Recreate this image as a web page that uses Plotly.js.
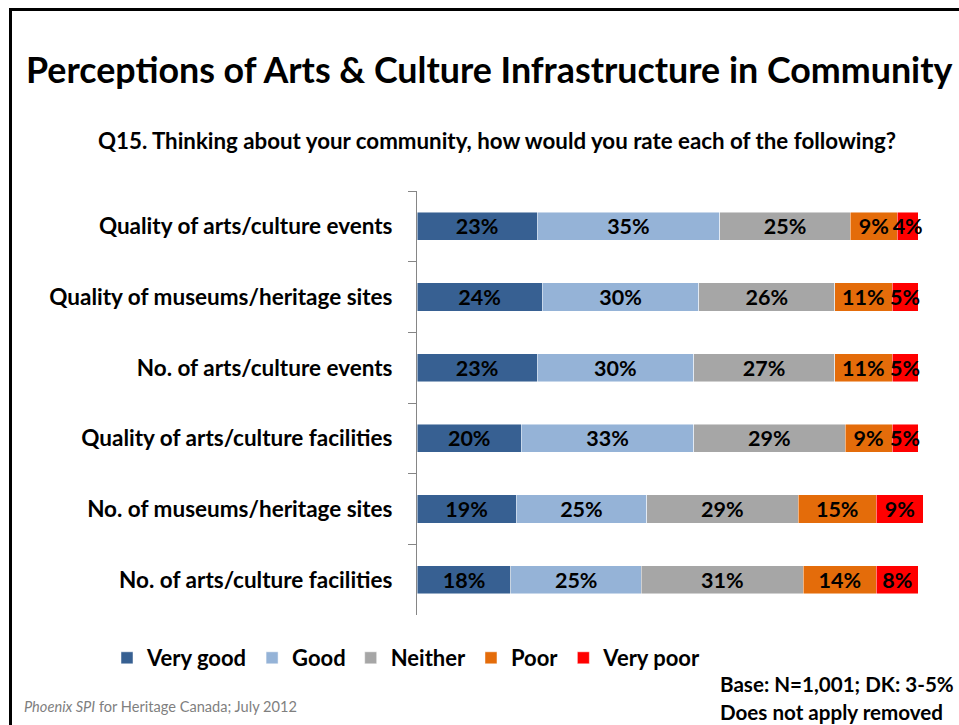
<!DOCTYPE html>
<html>
<head>
<meta charset="utf-8">
<script src="https://cdn.plot.ly/plotly-3.0.1.min.js"></script>
<style>
  html, body { margin: 0; padding: 0; background: #fff; }
  #wrap { position: relative; width: 959px; height: 725px; overflow: hidden; }
  #chart { position: absolute; left: 0; top: 0; width: 959px; height: 725px; }
  #frame { position: absolute; left: 9px; top: 8px; width: 960px; height: 730px;
           border-top: 3px solid #000; border-left: 3px solid #000; pointer-events: none; }
</style>
</head>
<body>
<div id="wrap">
  <div id="chart"></div>
  <div id="frame"></div>
</div>
<script>
const categories = [
  "Quality of arts/culture events",
  "Quality of museums/heritage sites",
  "No. of arts/culture events",
  "Quality of arts/culture facilities",
  "No. of museums/heritage sites",
  "No. of arts/culture facilities"
];
const seriesNames = ["Very good", "Good", "Neither", "Poor", "Very poor"];
const veryGood = [23, 24, 23, 20, 19, 18];
const good     = [35, 30, 30, 33, 25, 25];
const neither  = [25, 26, 27, 29, 29, 31];
const poor     = [9, 11, 11, 9, 15, 14];
const veryPoor = [4, 5, 5, 5, 9, 8];
const colors = ["#376092", "#95B3D7", "#A6A6A6", "#E46C0A", "#FF0000"];

const FONT = "Lato, 'Open Sans', sans-serif";
const W = 959, H = 725;
const M = { l: 417, r: 20, t: 191, b: 110 };
const pw = W - M.l - M.r, ph = H - M.t - M.b;
const px = x => (x - M.l) / pw;
const py = y => (H - M.b - y) / ph;

const seriesValues = [veryGood, good, neither, poor, veryPoor];
const traces = seriesValues.map((vals, i) => ({
  type: "bar",
  orientation: "h",
  name: seriesNames[i],
  y: categories,
  x: vals,
  width: 0.4,
  marker: { color: colors[i], line: { color: "rgba(255,255,255,0.6)", width: 0.8 } },
  text: vals.map(v => v + "%"),
  textposition: "inside",
  insidetextanchor: "middle",
  textangle: 0,
  constraintext: "none",
  cliponaxis: false,
  textfont: { family: FONT, size: 21.5, color: "#000", weight: "bold" },
  hoverinfo: "skip"
}));

const layout = {
  width: W, height: H,
  margin: M,
  barmode: "stack",
  paper_bgcolor: "#fff",
  plot_bgcolor: "#fff",
  showlegend: true,
  uniformtext: { mode: "show", minsize: 21.5 },
  font: { family: FONT, color: "#000" },
  xaxis: { range: [0, 100], visible: false, fixedrange: true },
  yaxis: {
    autorange: "reversed",
    showline: true, linecolor: "#868686", linewidth: 1,
    ticks: "outside", tickson: "boundaries", ticklen: 8, tickcolor: "#868686",
    ticklabelstandoff: 19,
    tickfont: { family: FONT, size: 22.5, color: "#000", weight: "bold" },
    showgrid: false, zeroline: false, fixedrange: true
  },
  legend: {
    orientation: "h",
    x: px(107), xanchor: "left",
    y: py(658), yanchor: "middle",
    font: { family: FONT, size: 22, color: "#000", weight: "bold" },
    traceorder: "normal",
    itemwidth: 30
  },
  annotations: [
    { xref: "paper", yref: "paper", x: px(489), y: py(70), xanchor: "center", yanchor: "middle",
      text: "Perceptions of Arts & Culture Infrastructure in Community", showarrow: false,
      font: { family: FONT, size: 35.8, color: "#000", weight: "bold" } },
    { xref: "paper", yref: "paper", x: px(497), y: py(140), xanchor: "center", yanchor: "middle",
      text: "Q15. Thinking about your community, how would you rate each of the following?", showarrow: false,
      font: { family: FONT, size: 22.3, color: "#000", weight: "bold" } },
    { xref: "paper", yref: "paper", x: px(22), y: py(706), xanchor: "left", yanchor: "middle",
      text: "<i>Phoenix SPI</i> for Heritage Canada; July 2012", showarrow: false,
      font: { family: FONT, size: 14.6, color: "#7F7F7F" } },
    { xref: "paper", yref: "paper", x: px(718), y: py(684), xanchor: "left", yanchor: "middle",
      text: "Base: N=1,001; DK: 3-5%", showarrow: false,
      font: { family: FONT, size: 20.6, color: "#000", weight: "bold" } },
    { xref: "paper", yref: "paper", x: px(718), y: py(712), xanchor: "left", yanchor: "middle",
      text: "Does not apply removed", showarrow: false,
      font: { family: FONT, size: 20.6, color: "#000", weight: "bold" } }
  ]
};

Plotly.newPlot("chart", traces, layout, { displayModeBar: false, staticPlot: true });
</script>
</body>
</html>
